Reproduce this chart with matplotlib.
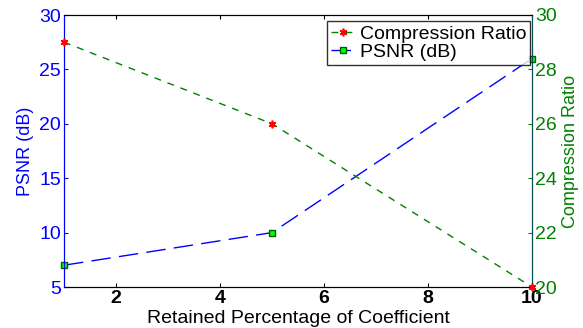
import matplotlib
matplotlib.use("Agg")
import matplotlib.pyplot as plt

plt.rcParams['font.family'] = ['Liberation Sans', 'DejaVu Sans']

retained = [1, 5, 10]
psnr = [7, 10, 26]
compression = [29, 26, 20]

x_ticks = [2, 4, 6, 8, 10]
left_ticks = [5, 10, 15, 20, 25, 30]
right_ticks = [20, 22, 24, 26, 28, 30]

fig = plt.figure(figsize=(5.83, 3.28), dpi=100)
ax = fig.add_axes([64/583, 1-287/328, (532-64)/583, (287-15)/328])
ax2 = ax.twinx()

blue = '#0000ff'
green = '#008000'

lp, = ax.plot(retained, psnr, color=blue, lw=1, dashes=(14, 6),
              marker='s', mfc='#00ff00', mec='#006000', ms=5, label='PSNR (dB)',
              clip_on=False, zorder=5)
lc, = ax2.plot(retained, compression, color=green, lw=1, dashes=(5, 5),
               marker=(6, 2, 0), mfc='red', mec='red', mew=1.2, ms=5.5,
               label='Compression Ratio', clip_on=False, zorder=5)

ax.set_xlim(1, 10)
ax.set_ylim(5, 30)
ax2.set_ylim(20, 30)
ax.set_xticks(x_ticks)
ax.set_yticks(left_ticks)
ax2.set_yticks(right_ticks)

for a in (ax, ax2):
    a.tick_params(direction='in', length=3, labelsize=14, pad=2)
ax.tick_params(axis='y', colors=blue)
ax.tick_params(axis='x', colors='black', labelsize=14, pad=2)
for lab in ax.get_xticklabels():
    lab.set_fontweight('bold')
ax.xaxis.set_ticks_position('both')
ax2.tick_params(axis='y', colors=green)
ax.spines['left'].set_color(blue)
ax2.spines['left'].set_color(blue)
ax2.spines['right'].set_color('#0b5050')

ax.set_ylabel('PSNR (dB)', color=blue, fontsize=13, labelpad=4)
ax2.set_ylabel('Compression Ratio', color=green, fontsize=13, labelpad=4)
ax.set_xlabel('Retained Percentage of Coefficient', fontsize=14, labelpad=2.5)

leg = ax2.legend([lc, lp], ['Compression Ratio', 'PSNR (dB)'], loc='upper right',
                 bbox_to_anchor=(1.0, 0.985), fontsize=14, frameon=True, fancybox=False,
                 edgecolor='black', borderpad=0.2, labelspacing=0.05, handlelength=1.3,
                 handletextpad=0.2, borderaxespad=0.1)
leg.get_frame().set_linewidth(1)

fig.savefig('out.png', dpi=100)
